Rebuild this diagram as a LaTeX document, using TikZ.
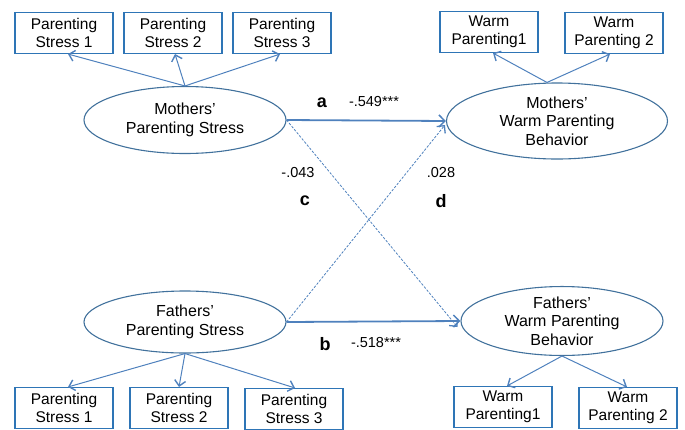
\documentclass[tikz,border=0pt]{standalone}
\usepackage{fontspec}
\setmainfont{Liberation Sans}
\usetikzlibrary{arrows.meta,shapes.geometric}
\definecolor{boxblue}{RGB}{46,117,182}
\definecolor{ellblue}{RGB}{65,113,156}
\definecolor{arrblue}{RGB}{79,129,189}
\begin{document}
\begin{tikzpicture}[x=1pt,y=-1pt,
  txt/.style={font=\fontsize{15.5}{18}\selectfont, align=center, inner sep=0pt},
  mbox/.style={txt, draw=boxblue, line width=1.1pt, minimum width=98pt, minimum height=41pt},
  lat/.style={txt, font=\fontsize{16}{18.5}\selectfont, ellipse, draw=ellblue, line width=1.1pt, inner sep=0pt},
  load/.style={draw=arrblue, line width=1pt, -{Straight Barb[length=5.5pt,width=11pt,line width=1.4pt]}},
  path/.style={draw=arrblue, line width=1.8pt, -{Straight Barb[length=6pt,width=12pt,line width=1.5pt]}},
  dpath/.style={draw=arrblue, line width=0.8pt, dash pattern=on 2.5pt off 1.5pt, -{Straight Barb[length=5.5pt,width=11pt,line width=1.3pt]}},
  lbl/.style={font=\fontsize{18}{20}\selectfont\bfseries, inner sep=0pt},
  num/.style={font=\fontsize{14.5}{16}\selectfont, inner sep=0pt}]
\useasboundingbox (0,0) rectangle (685,429);
% latent variables
\node[lat, minimum width=202pt, minimum height=67pt] (ms) at (185,120) {Mothers'\\Parenting Stress};
\node[lat, minimum width=221pt, minimum height=76pt] (mw) at (557,121) {Mothers'\\Warm Parenting\\Behavior};
\node[lat, minimum width=202pt, minimum height=62pt] (fs) at (185,322) {Fathers'\\Parenting Stress};
\node[lat, minimum width=202pt, minimum height=64pt] (fw) at (562,321) {Fathers'\\Warm Parenting\\Behavior};
% indicators
\node[mbox] (ms1) at (64,33) {Parenting\\Stress 1};
\node[mbox] (ms2) at (173,33) {Parenting\\Stress 2};
\node[mbox] (ms3) at (282,33) {Parenting\\Stress 3};
\node[mbox] (mw1) at (489,32) {Warm\\Parenting1};
\node[mbox] (mw2) at (614,33) {Warm\\Parenting 2};
\node[mbox] (fs1) at (64,408) {Parenting\\Stress 1};
\node[mbox] (fs2) at (179,408) {Parenting\\Stress 2};
\node[mbox] (fs3) at (294,409) {Parenting\\Stress 3};
\node[mbox] (fw1) at (503,407) {Warm\\Parenting1};
\node[mbox] (fw2) at (628,408) {Warm\\Parenting 2};
% loadings
\coordinate (mst) at (ms.north);
\draw[load] (mst) -- ([xshift=4pt]ms1.south);
\draw[load] (mst) -- ([xshift=2pt]ms2.south);
\draw[load] (mst) -- ([xshift=-2pt]ms3.south);
\coordinate (mwt) at ([xshift=-10pt]mw.north);
\draw[load] (mwt) -- ([xshift=4pt]mw1.south);
\draw[load] (mwt) -- ([xshift=-4pt]mw2.south);
\coordinate (fsb) at (fs.south);
\draw[load] (fsb) -- ([xshift=4pt]fs1.north);
\draw[load] (fsb) -- (fs2.north);
\draw[load] (fsb) -- ([xshift=1pt]fs3.north);
\coordinate (fwb) at (fw.south);
\draw[load] (fwb) -- ([xshift=4pt]fw1.north);
\draw[load] (fwb) -- ([xshift=-1pt]fw2.north);
% structural paths
\draw[path] (ms.east) -- (mw.west);
\draw[path] (fs.east) -- (fw.west);
\draw[dpath] (ms.east) -- ([xshift=-3pt,yshift=-6pt]fw.west);
\draw[dpath] (fs.east) -- ([xshift=-1pt,yshift=-4pt]mw.west);
% labels
\node[lbl] (la) at (322,103) {a};
\node[num] (na) at (374,102) {-.549***};
\node[lbl] (lb) at (325,344) {b};
\node[num] (nb) at (376,343) {-.518***};
\node[num] (nc) at (298,173) {-.043};
\node[lbl] (lc) at (305,201) {c};
\node[num] (nd) at (441,173) {.028};
\node[lbl] (ld) at (441,201) {d};
\end{tikzpicture}
\end{document}
